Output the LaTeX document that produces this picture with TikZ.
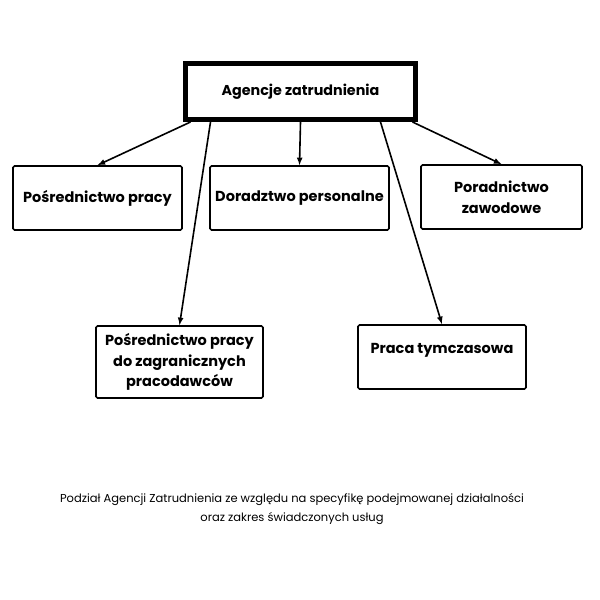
\documentclass[tikz,border=0pt]{standalone}
\usepackage{fontspec}
\setmainfont{Poppins}
\usepackage{tikz}

\begin{document}
\begin{tikzpicture}[x=1pt, y=-1pt]
    \useasboundingbox (0,0) rectangle (600,600);
    \tikzset{box/.style={draw, line width=1.6pt, rounded corners=1.5pt, minimum height=64pt,
                         align=center, font=\fontsize{14.5}{20.5}\selectfont\bfseries, inner sep=2pt}}
    \node[draw, line width=5pt, minimum width=230pt, minimum height=56pt,
          font=\fontsize{14.3}{20}\selectfont\bfseries] (top) at (300.5, 91.5) {Agencje zatrudnienia};
    \node[box, minimum width=169pt] (posr) at (97.5, 198) {Pośrednictwo pracy};
    \node[box, minimum width=179pt] (dorad) at (299.5, 198) {Doradztwo personalne};
    \node[box, minimum width=161pt] (porad) at (501.5, 197) {Poradnictwo\\zawodowe};
    \node[box, minimum width=167pt, minimum height=72pt] (zagr) at (179.5, 362)
        {Pośrednictwo pracy\\do zagranicznych\\pracodawców};
    \node[box, minimum width=168pt] (praca) at (442, 357) {Praca tymczasowa\\[-10pt]\strut};
    \foreach \dx/\target in {-110/posr, -90/zagr, 0/dorad, 80/praca, 112/porad}
      \draw[-latex, line width=1.6pt] ([xshift=\dx pt]top.south) -- (\target.north);
    \node[align=center, font=\fontsize{11.5}{19}\selectfont] (caption) at (292, 509)
        {Podział Agencji Zatrudnienia ze względu na specyfikę podejmowanej działalności\\
         oraz zakres świadczonych usług};
\end{tikzpicture}
\end{document}
